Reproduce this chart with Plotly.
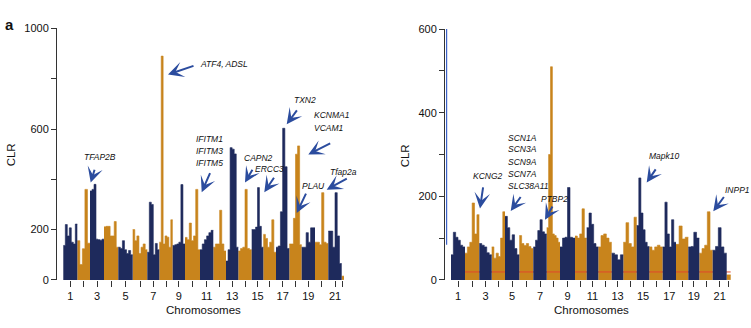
import plotly.graph_objects as go

# ---------------- data ----------------
chrom_names = [str(i) for i in range(1, 23)]
shown_tick_labels = [str(i) for i in range(1, 22, 2)]

# relative chromosome lengths
left_chrom_lengths = [14, 12.7, 14, 14.3, 14.4, 14.6, 12, 13.4, 12.3, 15, 13.3,
                      12.7, 12.3, 13.4, 11.6, 12.7, 13.3, 12.4, 13.3, 13.3, 13.4, 2.3]
right_chrom_lengths = [14, 14.3, 12.4, 13.3, 14.3, 14, 13.4, 13.3, 15, 11.7, 11.6,
                       13.4, 11.6, 13.4, 12.6, 13.4, 13.3, 12.3, 11, 13.4, 14, 4]

# CLR peak profile along each chromosome (left panel)
left_clr = [
    [137, 220, 175, 207, 150, 143, 222],
    [156, 61, 124, 360, 146],
    [354, 360, 380, 162, 160, 158, 162],
    [211, 213, 213, 175, 175, 232, 130],
    [130, 125, 156, 120, 105, 117, 100],
    [200, 156, 175, 105, 130, 143, 120],
    [110, 309, 300, 100, 145, 120],
    [150, 890, 143, 175, 170, 130, 239],
    [137, 140, 143, 150, 379, 143],
    [169, 160, 226, 156, 175, 360, 120],
    [120, 143, 160, 175, 188, 197],
    [130, 143, 143, 277, 143, 115],
    [75, 120, 526, 520, 501, 130],
    [115, 125, 130, 360, 125, 120],
    [200, 200, 210, 367, 213, 130],
    [181, 165, 130, 150, 239, 110],
    [130, 135, 271, 603, 450, 125],
    [143, 143, 245, 500, 533, 140],
    [130, 130, 188, 150, 207, 207],
    [150, 150, 140, 347, 150, 145],
    [194, 194, 130, 347, 175, 65],
    [15],
]

# CLR peak profile along each chromosome (right panel)
right_clr = [
    [60, 114, 102, 95, 83, 79],
    [64, 79, 90, 184, 110, 156],
    [87, 83, 79, 65, 60],
    [79, 52, 64, 56, 100, 163],
    [152, 125, 95, 108, 75, 60],
    [106, 87, 82, 87, 80, 75],
    [79, 95, 118, 144, 115, 110],
    [125, 300, 510, 110, 106, 100, 90],
    [79, 100, 102, 221, 102, 100],
    [105, 100, 110, 170, 100],
    [125, 160, 133, 87, 79],
    [79, 106, 110, 100, 90],
    [64, 60, 48, 60],
    [90, 137, 87, 79, 150],
    [130, 244, 160, 120, 90, 80],
    [79, 71, 79, 83, 79],
    [79, 186, 110, 79, 144, 90],
    [85, 129, 98, 102],
    [79, 80, 114, 100],
    [64, 75, 83, 163, 71],
    [71, 80, 125, 79, 64],
    [12],
]

right_threshold = 19

# gene labels: (text, x, y) and arrows (tail x, tail y, head x, head y)
left_labels = [
    ("ATF4, ADSL", 141, 859), ("TXN2", 235, 714), ("KCNMA1", 255, 656),
    ("VCAM1", 255, 603), ("IFITM1", 137, 560), ("IFITM3", 137, 511),
    ("IFITM5", 137, 465), ("CAPN2", 184.7, 484), ("ERCC3", 196.3, 442),
    ("TFAP2B", 24.7, 487), ("PLAU", 243, 374), ("Tfap2a", 270.7, 428),
]
left_arrows = [
    (138, 853, 111, 817), (241, 680, 229.7, 619), (274.7, 546, 251.3, 499),
    (153.7, 431, 144.7, 349), (196.3, 444, 188, 387), (218, 412, 207.3, 349),
    (38, 444, 33.7, 387), (249.7, 349, 239.7, 266), (291.3, 406, 269.7, 359),
]
right_labels = [
    ("SCN1A", 60.7, 340), ("SCN3A", 60.7, 312), ("SCN9A", 60.7, 282),
    ("SCN7A", 60.7, 254), ("SLC38A11", 61.0, 225), ("KCNG2", 25.7, 248),
    ("PTBP2", 94.3, 194), ("Mapk10", 201.7, 296), ("INPP1", 278.3, 216),
]
right_arrows = [
    (76.7, 202, 65.7, 165), (38.3, 225, 35, 171), (108.3, 179, 100, 144),
    (211.7, 268, 201.7, 233), (280, 202, 268.3, 164),
]

# ---------------- style ----------------
NAVY = "#1e2a5c"
ORANGE = "#c8841c"
ARROW = "#2b4c9e"
AXIS = "#333333"
FONT = "Liberation Sans, Arial, sans-serif"
W, H = 751, 328

fig = go.Figure()


def panel(lengths, clr, start, xa, ya, threshold=None):
    pos = start
    centers, orange, navy = [], [], []
    for i, (L, h) in enumerate(zip(lengths, clr)):
        n = len(h)
        step = L / n
        xs = [pos + k * step for k in range(n)] + [pos + L]
        ys = list(h) + [h[-1]]
        col = NAVY if i % 2 == 0 else ORANGE
        tr = go.Scatter(x=xs, y=ys, mode="lines",
                        line=dict(shape="hv", width=0.6, color=col),
                        fill="tozeroy", fillcolor=col,
                        xaxis=xa, yaxis=ya, hoverinfo="skip", showlegend=False)
        (navy if i % 2 == 0 else orange).append(tr)
        centers.append(pos + L / 2)
        pos += L
    for t in orange:
        fig.add_trace(t)
    if threshold is not None:
        fig.add_trace(go.Scatter(x=[start, pos], y=[threshold, threshold], mode="lines",
                                 line=dict(color="#e0472c", width=1),
                                 xaxis=xa, yaxis=ya, hoverinfo="skip", showlegend=False))
    for t in navy:
        fig.add_trace(t)
    return centers


lc = panel(left_chrom_lengths, left_clr, 6.3, "x", "y")
rc = panel(right_chrom_lengths, right_clr, 6.0, "x2", "y2", right_threshold)

ticktext = [n if n in shown_tick_labels else "" for n in chrom_names]

common_x = dict(showgrid=False, zeroline=False, showline=False, ticks="outside",
                ticklen=6, tickwidth=1, tickcolor=AXIS,
                tickfont=dict(family=FONT, size=11, color="#111"))
common_y = dict(showgrid=False, zeroline=False, showline=True, linecolor=AXIS, linewidth=1,
                ticks="outside", ticklen=5, tickwidth=1, tickcolor=AXIS,
                tickfont=dict(family=FONT, size=11, color="#111"))

y_dom_l = [(H - 284.3) / H, (H - 23.3) / H]
y_dom_r = [(H - 284.3) / H, (H - 24.0) / H]

fig.update_layout(
    width=W, height=H, autosize=False,
    margin=dict(l=0, r=0, t=0, b=0),
    paper_bgcolor="white", plot_bgcolor="white",
    font=dict(family=FONT, color="#111"),
    xaxis=dict(domain=[57 / W, 350 / W], range=[0, 293], anchor="y",
               tickvals=lc, ticktext=ticktext, **common_x),
    yaxis=dict(domain=y_dom_l, range=[0, 1000], anchor="x",
               tickvals=[0, 200, 400, 600, 800, 1000],
               ticktext=["0", "200", "", "600", "", "1000"], **common_y),
    xaxis2=dict(domain=[445 / W, 735 / W], range=[0, 290], anchor="y2",
                tickvals=rc, ticktext=ticktext, **common_x),
    yaxis2=dict(domain=y_dom_r, range=[0, 600], anchor="x2",
                tickvals=[0, 100, 200, 300, 400, 500, 600],
                ticktext=["0", "", "200", "", "400", "", "600"], **common_y),
)

# blue overlay on the upper part of the right y axis line
fig.add_shape(type="line", xref="x2", yref="y2", x0=1.6, x1=1.6, y0=84, y1=600,
              line=dict(color="#3d62c6", width=1.2), layer="above")

ann = []
for txt, x, y in left_labels:
    ann.append(dict(text=f"<i>{txt}</i>", x=x, y=y, xref="x", yref="y",
                    xanchor="left", yanchor="middle", showarrow=False,
                    font=dict(family=FONT, size=8.5, color="#111")))
for txt, x, y in right_labels:
    ann.append(dict(text=f"<i>{txt}</i>", x=x, y=y, xref="x2", yref="y2",
                    xanchor="left", yanchor="middle", showarrow=False,
                    font=dict(family=FONT, size=8.5, color="#111")))
for (tx, ty, hx, hy) in left_arrows:
    ann.append(dict(text="", x=hx, y=hy, ax=tx, ay=ty, xref="x", yref="y",
                    axref="x", ayref="y", showarrow=True, arrowhead=3,
                    arrowsize=1.3, arrowwidth=2, arrowcolor=ARROW))
for (tx, ty, hx, hy) in right_arrows:
    ann.append(dict(text="", x=hx, y=hy, ax=tx, ay=ty, xref="x2", yref="y2",
                    axref="x2", ayref="y2", showarrow=True, arrowhead=3,
                    arrowsize=1.3, arrowwidth=2, arrowcolor=ARROW))

# axis titles and panel letter
title_font = dict(family=FONT, size=11.5, color="#111")
ann.append(dict(text="CLR", x=11 / W, y=(H - 155) / H, xref="paper", yref="paper",
                xanchor="center", yanchor="middle",
                textangle=-90, showarrow=False, font=title_font))
ann.append(dict(text="CLR", x=405 / W, y=(H - 155) / H, xref="paper", yref="paper",
                xanchor="center", yanchor="middle",
                textangle=-90, showarrow=False, font=title_font))
ann.append(dict(text="Chromosomes", x=203 / W, y=(H - 316) / H, xref="paper", yref="paper",
                xanchor="center", yanchor="middle", showarrow=False, font=title_font))
ann.append(dict(text="Chromosomes", x=591 / W, y=(H - 316) / H, xref="paper", yref="paper",
                xanchor="center", yanchor="middle", showarrow=False, font=title_font))
ann.append(dict(text="<b>a</b>", x=9 / W, y=(H - 19) / H, xref="paper", yref="paper",
                xanchor="center", yanchor="middle",
                showarrow=False, font=dict(family=FONT, size=15, color="#111")))

fig.update_layout(annotations=ann)

fig.write_html("out.html")
